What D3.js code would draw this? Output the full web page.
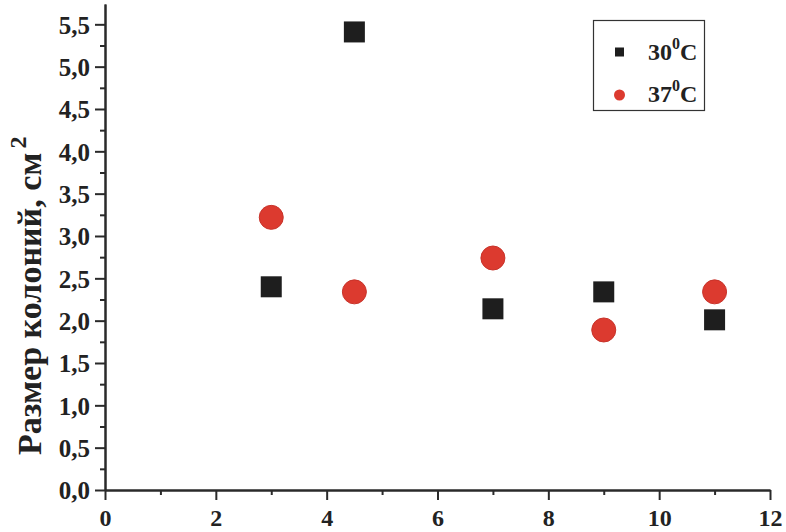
<!DOCTYPE html>
<html><head><meta charset="utf-8">
<script src="https://cdn.jsdelivr.net/npm/d3@7"></script>
<style>body{margin:0;background:#fff}svg{display:block}</style>
</head><body>
<svg id="c" width="786" height="532"></svg>
<script>
const xTicks = [0, 2, 4, 6, 8, 10, 12];
const yTicks = [0, 0.5, 1, 1.5, 2, 2.5, 3, 3.5, 4, 4.5, 5, 5.5];
const series30x = [3, 4.5, 7, 9, 11];
const series30y = [2.40, 5.41, 2.14, 2.34, 2.01];
const series37x = [3, 4.5, 7, 9, 11];
const series37y = [3.22, 2.34, 2.74, 1.89, 2.34];
const legendLabels = ["30", "37"];
const yTitle = "Размер колоний, см";

const svg = d3.select("#c");
const font = "'Liberation Serif','Times New Roman',serif";
const x = d3.scaleLinear().domain([0, 12]).range([105, 770]);
const y = d3.scaleLinear().domain([0, 5.74]).range([490, 4]);
const axisColor = "#2a2a2a";
const fmt = v => d3.format(".1f")(v).replace(".", ",");

// x axis
const gx = svg.append("g").attr("transform", `translate(0,${y(0)})`)
  .call(d3.axisBottom(x).tickValues(xTicks).tickFormat(d3.format("d")).tickSize(10).tickSizeOuter(0));
const gxm = svg.append("g").attr("transform", `translate(0,${y(0)})`)
  .call(d3.axisBottom(x).tickValues([1,3,5,7,9,11]).tickFormat("").tickSize(5).tickSizeOuter(0));
// y axis
const gy = svg.append("g").attr("transform", `translate(${x(0)},0)`)
  .call(d3.axisLeft(y).tickValues(yTicks).tickFormat(fmt).tickSize(10).tickSizeOuter(0).tickPadding(5));
const gym = svg.append("g").attr("transform", `translate(${x(0)},0)`)
  .call(d3.axisLeft(y).tickValues(d3.range(0.25, 5.5, 0.5)).tickFormat("").tickSize(5).tickSizeOuter(0));

[gx, gxm, gy, gym].forEach(g => {
  g.select(".domain").attr("stroke", axisColor).attr("stroke-width", 2);
  g.selectAll(".tick line").attr("stroke", axisColor).attr("stroke-width", 2);
  g.selectAll("text").attr("font-family", font).attr("font-weight", "bold").attr("fill", "#222");
});
gx.selectAll("text").attr("font-size", 24).attr("y", 36).attr("dy", 0);
gy.selectAll("text").attr("font-size", 25).attr("dy", "0.35em");

// y title
const yt = svg.append("text").attr("transform", "translate(41,455) rotate(-90)")
  .attr("font-family", font).attr("font-weight", "bold").attr("font-size", 34).attr("fill", "#222");
yt.append("tspan").text(yTitle);
yt.append("tspan").attr("dx", 4).attr("dy", -15).attr("font-size", 24).text("2");

// points
const sq = 21, r = 12;
svg.append("g").selectAll("rect").data(series30x.map((d, i) => [d, series30y[i]])).join("rect")
  .attr("x", d => x(d[0]) - sq / 2).attr("y", d => y(d[1]) - sq / 2)
  .attr("width", sq).attr("height", sq).attr("fill", "#1e1e1e");
svg.append("g").selectAll("circle").data(series37x.map((d, i) => [d, series37y[i]])).join("circle")
  .attr("cx", d => x(d[0])).attr("cy", d => y(d[1])).attr("r", r)
  .attr("fill", "#dc3a2f").attr("stroke", "#c8332a").attr("stroke-width", 1);

// legend
const lg = svg.append("g");
lg.append("rect").attr("x", 593.5).attr("y", 20.5).attr("width", 111).attr("height", 90)
  .attr("fill", "none").attr("stroke", "#333").attr("stroke-width", 1.2);
lg.append("rect").attr("x", 615).attr("y", 47.5).attr("width", 9).attr("height", 9).attr("fill", "#1e1e1e");
lg.append("circle").attr("cx", 619.5).attr("cy", 95).attr("r", 5.5).attr("fill", "#dc3a2f");
[60, 102].forEach((by, i) => {
  const t = lg.append("text").attr("x", 648).attr("y", by)
    .attr("font-family", font).attr("font-weight", "bold").attr("font-size", 24).attr("fill", "#222");
  t.append("tspan").text(legendLabels[i]);
  t.append("tspan").attr("dy", -11).attr("font-size", 16).text("0");
  t.append("tspan").attr("dy", 11).attr("font-size", 24).text("C");
});
</script>
</body></html>
